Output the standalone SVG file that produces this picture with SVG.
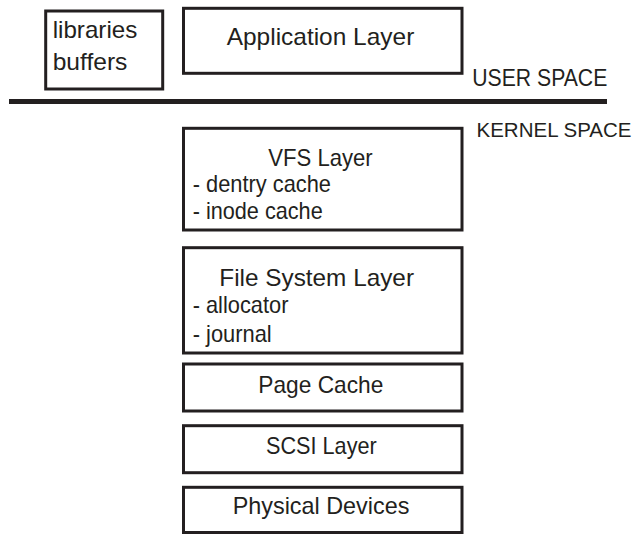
<svg xmlns="http://www.w3.org/2000/svg" width="636" height="534" viewBox="0 0 636 534">
  <style>
    .box { fill: #ffffff; stroke: #231f20; stroke-width: 3; }
    .lbl { font-family: "Liberation Sans", Arial, sans-serif; font-size: 24px; fill: #231f20; }
    .edge { font-size: 20.5px; }
    .divider { stroke: #231f20; stroke-width: 5; }
  </style>
  <rect width="636" height="534" fill="#ffffff"/>

  <!-- user space -->
  <g id="libraries">
    <rect class="box" x="45.7" y="11" width="117" height="78"/>
    <text class="lbl" x="52.7" y="38" textLength="84.6" lengthAdjust="spacingAndGlyphs">libraries</text>
    <text class="lbl" x="52.7" y="70" textLength="74.7" lengthAdjust="spacingAndGlyphs">buffers</text>
  </g>
  <g id="application">
    <rect class="box" x="183.5" y="8.3" width="278.5" height="65"/>
    <text class="lbl" x="226.7" y="45" textLength="187.6" lengthAdjust="spacingAndGlyphs">Application Layer</text>
  </g>

  <!-- user / kernel boundary -->
  <g id="boundary">
    <line class="divider" x1="9" y1="101.5" x2="607" y2="101.5"/>
    <text class="lbl" x="472.3" y="86" textLength="135" lengthAdjust="spacingAndGlyphs">USER SPACE</text>
    <text class="lbl edge" x="476.5" y="136.7" textLength="155" lengthAdjust="spacingAndGlyphs">KERNEL SPACE</text>
  </g>

  <!-- kernel stack -->
  <g id="vfs">
    <rect class="box" x="183.5" y="128.3" width="278.5" height="101.7"/>
    <text class="lbl" x="268.3" y="165.7" textLength="104.4" lengthAdjust="spacingAndGlyphs">VFS Layer</text>
    <text class="lbl" x="192.7" y="191.7" textLength="138.3" lengthAdjust="spacingAndGlyphs">- dentry cache</text>
    <text class="lbl" x="192.7" y="219.3" textLength="130" lengthAdjust="spacingAndGlyphs">- inode cache</text>
  </g>
  <g id="filesystem">
    <rect class="box" x="183.5" y="247.7" width="278.5" height="105.3"/>
    <text class="lbl" x="219.3" y="285.7" textLength="194.7" lengthAdjust="spacingAndGlyphs">File System Layer</text>
    <text class="lbl" x="192.7" y="313.3" textLength="95.7" lengthAdjust="spacingAndGlyphs">- allocator</text>
    <text class="lbl" x="192.7" y="341.7" textLength="79" lengthAdjust="spacingAndGlyphs">- journal</text>
  </g>
  <g id="pagecache">
    <rect class="box" x="183.5" y="364" width="278.5" height="47"/>
    <text class="lbl" x="258.3" y="393.3" textLength="125" lengthAdjust="spacingAndGlyphs">Page Cache</text>
  </g>
  <g id="scsi">
    <rect class="box" x="183.5" y="425.7" width="278.5" height="47"/>
    <text class="lbl" x="266" y="454.3" textLength="110.7" lengthAdjust="spacingAndGlyphs">SCSI Layer</text>
  </g>
  <g id="devices">
    <rect class="box" x="183.5" y="487.3" width="278.5" height="45.2"/>
    <text class="lbl" x="232.7" y="514.3" textLength="176.7" lengthAdjust="spacingAndGlyphs">Physical Devices</text>
  </g>

  <g id="connectors"/>
</svg>
